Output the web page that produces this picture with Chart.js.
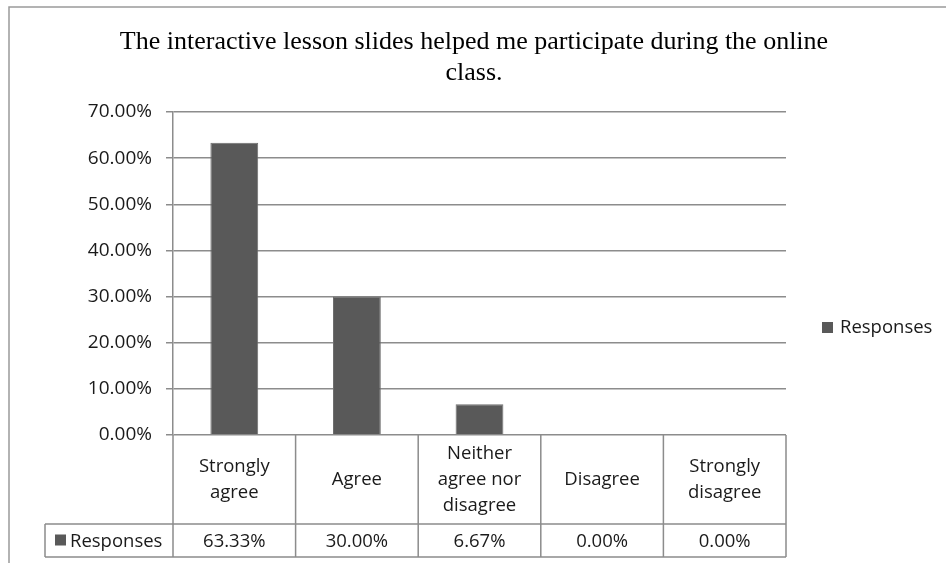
<!DOCTYPE html>
<html>
<head>
<meta charset="utf-8">
<script src="https://cdn.jsdelivr.net/npm/chart.js@4.4.0/dist/chart.umd.min.js"></script>
<style>
  html, body { margin: 0; padding: 0; background: #ffffff; }
  #wrap { width: 946px; height: 563px; position: relative; }
</style>
</head>
<body>
<div id="wrap"><canvas id="c" width="946" height="563"></canvas></div>
<script>
// ---- data ----
const titleLines = ['The interactive lesson slides helped me participate during the online', 'class.'];
const categories = [['Strongly', 'agree'], ['Agree'], ['Neither', 'agree nor', 'disagree'], ['Disagree'], ['Strongly', 'disagree']];
const seriesName = 'Responses';
const responses = [0.6333, 0.30, 0.0667, 0.00, 0.00];
const yMin = 0;
const yMax = 0.7;
const yStep = 0.1;

// ---- styles ----
const barColor = '#595959';
const lineColor = '#8c8c8c';
const textColor = '#1a1a1a';
const sansFont = "'Open Sans', 'Noto Sans', sans-serif";
const serifFont = "'Liberation Serif', 'DejaVu Serif', serif";
const fmt = v => (v * 100).toFixed(2) + '%';

const extrasPlugin = {
  id: 'extras',
  afterDraw(chart) {
    const ctx = chart.ctx;
    const area = chart.chartArea;
    const xs = chart.scales.x;
    const n = chart.data.labels.length;
    const headerBottom = 524;
    const rowBottom = 557;
    const tableLeft = 45;
    ctx.save();

    // outer frame
    ctx.strokeStyle = '#9a9a9a';
    ctx.lineWidth = 1.5;
    ctx.beginPath();
    ctx.moveTo(9, 563);
    ctx.lineTo(9, 7);
    ctx.lineTo(946, 7);
    ctx.stroke();

    // title
    ctx.fillStyle = '#000000';
    ctx.font = "26px " + serifFont;
    ctx.textAlign = 'center';
    ctx.textBaseline = 'alphabetic';
    const tcx = 474;
    ctx.fillText(titleLines[0], tcx, 49);
    ctx.fillText(titleLines[1], tcx, 80);

    // data table lines
    ctx.strokeStyle = lineColor;
    ctx.lineWidth = 1.5;
    const bounds = [area.left];
    for (let i = 0; i < n - 1; i++) {
      bounds.push((xs.getPixelForValue(i) + xs.getPixelForValue(i + 1)) / 2);
    }
    bounds.push(area.right);
    ctx.beginPath();
    ctx.moveTo(area.left, area.bottom);
    ctx.lineTo(area.left, rowBottom);
    for (let i = 1; i < bounds.length; i++) {
      ctx.moveTo(bounds[i], area.bottom);
      ctx.lineTo(bounds[i], rowBottom);
    }
    ctx.moveTo(tableLeft, headerBottom);
    ctx.lineTo(area.right, headerBottom);
    ctx.moveTo(tableLeft, rowBottom);
    ctx.lineTo(area.right, rowBottom);
    ctx.moveTo(tableLeft, headerBottom);
    ctx.lineTo(tableLeft, rowBottom);
    ctx.stroke();

    // header labels
    ctx.fillStyle = textColor;
    ctx.font = "18.5px " + sansFont;
    ctx.textBaseline = 'middle';
    ctx.textAlign = 'center';
    const lh = 26;
    const hc = (area.bottom + headerBottom) / 2;
    chart.data.labels.forEach((lab, i) => {
      const lines = Array.isArray(lab) ? lab : [lab];
      const cx = xs.getPixelForValue(i);
      const y0 = hc - (lines.length - 1) * lh / 2;
      lines.forEach((t, k) => ctx.fillText(t, cx, y0 + k * lh));
    });
    // value row
    const rc = (headerBottom + rowBottom) / 2;
    chart.data.datasets[0].data.forEach((v, i) => {
      ctx.fillText(fmt(v), xs.getPixelForValue(i), rc + 1);
    });
    // row legend key
    ctx.fillStyle = barColor;
    ctx.fillRect(55, rc - 6, 11, 11);
    ctx.fillStyle = textColor;
    ctx.textAlign = 'left';
    ctx.fillText(chart.data.datasets[0].label, 70, rc + 1);

    // right legend
    ctx.fillStyle = barColor;
    ctx.fillRect(822, 322, 11, 11);
    ctx.fillStyle = textColor;
    ctx.textAlign = 'left';
    ctx.fillText(chart.data.datasets[0].label, 840, 328);
    ctx.restore();
  }
};

new Chart(document.getElementById('c'), {
  type: 'bar',
  data: {
    labels: categories,
    datasets: [{
      label: seriesName,
      data: responses,
      backgroundColor: barColor,
      borderColor: '#6e6e6e',
      borderWidth: 1,
      categoryPercentage: 1,
      barPercentage: 0.39
    }]
  },
  options: {
    responsive: false,
    animation: false,
    devicePixelRatio: 1,
    layout: { padding: { left: 0, right: 160, top: 112, bottom: 128 } },
    plugins: {
      legend: { display: false },
      title: { display: false },
      tooltip: { enabled: false }
    },
    scales: {
      x: { display: false },
      y: {
        min: yMin,
        max: yMax,
        afterFit: s => { s.width = 173; },
        ticks: {
          stepSize: yStep,
          callback: v => fmt(v),
          font: { family: sansFont, size: 19 },
          color: textColor,
          padding: 14
        },
        grid: { color: lineColor, lineWidth: 1.5, tickLength: 7, drawTicks: true },
        border: { display: true, color: lineColor, width: 1.5 }
      }
    }
  },
  plugins: [extrasPlugin]
});
</script>
</body>
</html>
